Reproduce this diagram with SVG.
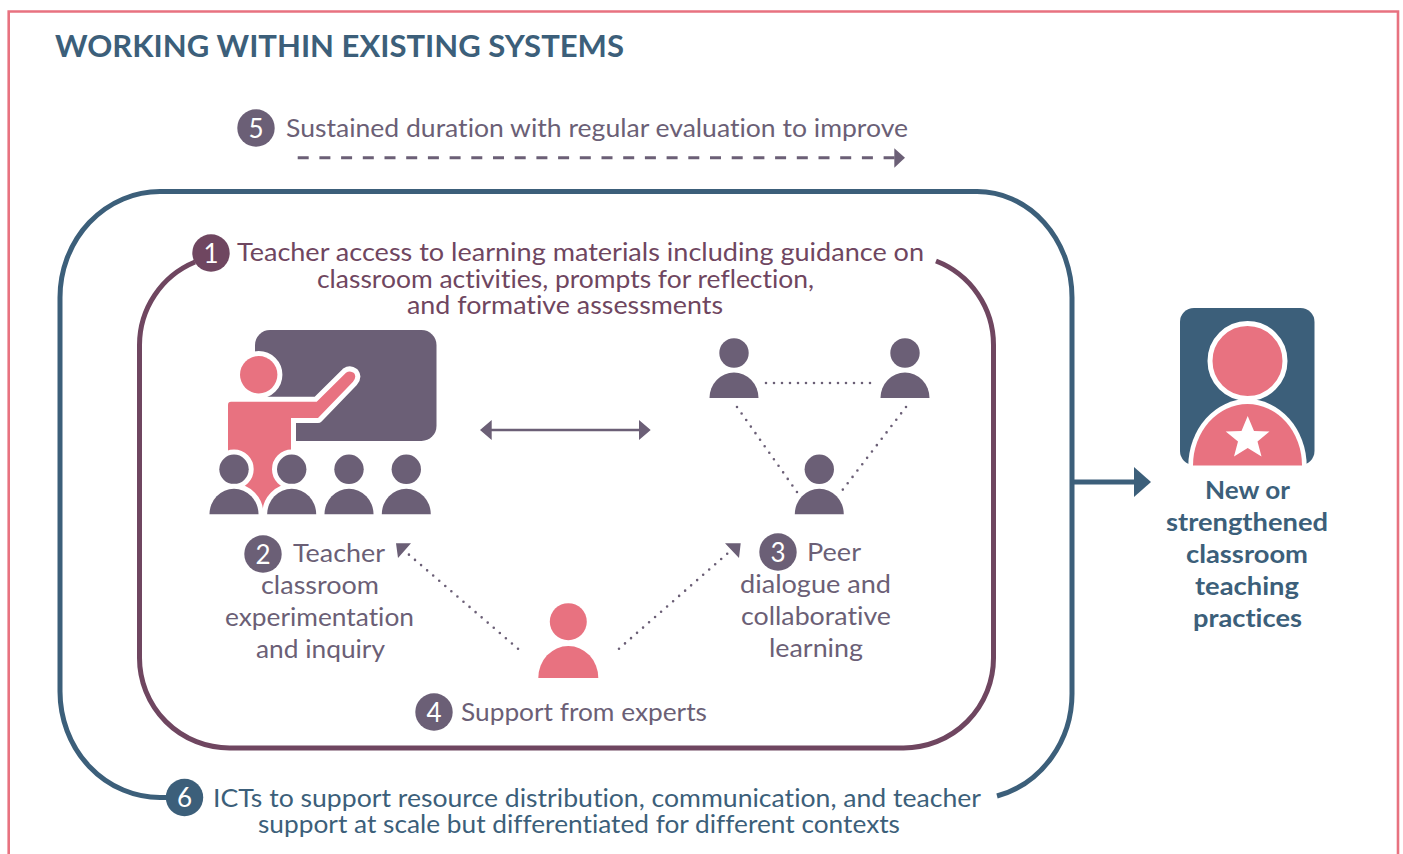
<svg xmlns="http://www.w3.org/2000/svg" width="1403" height="854" viewBox="0 0 1403 854">
<style>
text{font-family:Lato,"Open Sans","Liberation Sans",sans-serif;font-size:25.5px;font-variant-ligatures:none}
.g{fill:#6b5f76}.p{fill:#6f4660}.b{fill:#3c5f7a}.r{fill:#e87280}
.bold{font-weight:700;font-size:25px}
.num{fill:#fff;font-size:26px;text-anchor:middle}
.dot{fill:none;stroke:#6b5f76;stroke-width:2.6;stroke-linecap:round;stroke-dasharray:0 8}
.halo{stroke:#fff;stroke-width:10;stroke-linejoin:round;paint-order:stroke}
</style>
<defs>
<g id="person"><circle cx="0" cy="-45" r="14.7"/><path d="M-24.5 0A24.5 25.500 0 0 1 24.500 0Z"/></g>
</defs>
<rect width="1403" height="854" fill="#fff"/>
<path id="frame" d="M8.700 854V11.500H1398V854" fill="none" stroke="#e87280" stroke-width="2.600"/>
<text id="title" x="55" y="56.500" class="b" style="font-weight:700;font-size:30px" textLength="569" lengthAdjust="spacingAndGlyphs">WORKING WITHIN EXISTING SYSTEMS</text>

<g id="connectors" fill="none">
<path d="M170 797.500H160A100 106 0 0 1 60 691.500V297.500A100 106.000 0 0 1 160 191.500H977A95 106 0 0 1 1072 297.500V691.500A100 106 0 0 1 997 796" stroke="#3c5f7a" stroke-width="5"/>
<path d="M195 262A90 90 0 0 0 139.500 345V658A90 90 0 0 0 229.500 748H903.500A90 90 0 0 0 993.500 658V345A90 90 0 0 0 936 261" stroke="#6f4660" stroke-width="5"/>
<path d="M1072 482H1136" stroke="#3c5f7a" stroke-width="5"/>
<path d="M1134 467L1151 482L1134 497Z" fill="#3c5f7a"/>
<path d="M297.700 157.800H895" stroke="#6b5f76" stroke-width="3" stroke-dasharray="11 10.700"/>
<path d="M894.300 148.300L905 157.800L894.300 167.700Z" fill="#6b5f76"/>
<path d="M490 430H641" stroke="#6b5f76" stroke-width="2.500"/>
<path d="M491.700 420L480 430L491.700 440ZM639 420L650.700 430L639 440Z" fill="#6b5f76"/>
<path class="dot" d="M766 383H876"/>
<path class="dot" d="M737 407L797 492"/>
<path class="dot" d="M906 407L841 492"/>
<path class="dot" d="M518 648.700L407 553"/>
<path class="dot" d="M619 648.700L728 553"/>
<path d="M396 543.300H411L398 558ZM725 543.300H740.700L739 558Z" fill="#6b5f76"/>
</g>

<g id="teacher">
<rect x="255" y="330" width="181.500" height="111" rx="15" class="g"/>
<path class="r halo" d="M228 405Q228 401.700 231 401.700H316.700L346 372.700Q350 370 354 373Q357 377 353 381.700L318 418H291V514H228Z"/>
<circle cx="258.700" cy="374.700" r="18.700" class="r halo"/>
<g class="g">
<g class="halo"><use href="#person" x="234" y="514.300"/><use href="#person" x="291.700" y="514.300"/></g>
<use href="#person" x="349" y="514.300"/><use href="#person" x="406.300" y="514.300"/>
</g>
<rect x="205" y="515" width="60" height="6" fill="#fff"/>
</g>
<g id="peers" class="g">
<use href="#person" x="734" y="398"/><use href="#person" x="905" y="398"/><use href="#person" x="819.300" y="514.300"/>
</g>
<g id="expert" class="r">
<circle cx="568.300" cy="621.700" r="18.500"/><path d="M538.300 678A30 32 0 0 1 598.300 678Z"/>
</g>
<g id="outcome">
<rect x="1180" y="308" width="134.500" height="157" rx="14" class="b"/>
<path d="M1188.300 466A59.200 67 0 0 1 1306.700 466Z" fill="#fff"/>
<path d="M1193 465.500A54.500 61.500 0 0 1 1302 465.500Z" class="r"/>
<circle cx="1247.500" cy="361" r="37.500" class="r" stroke="#fff" stroke-width="5"/>
<path d="M1247.700 416L1254 431L1269.500 431.500L1257.500 441.500L1261.500 456.500L1247.700 448L1234 456.500L1238 441.500L1225.700 431.500L1241.500 431Z" fill="#fff"/>
<g class="b bold">
<text x="1205" y="499" textLength="85" lengthAdjust="spacingAndGlyphs">New or</text>
<text x="1166" y="531" textLength="162" lengthAdjust="spacingAndGlyphs">strengthened</text>
<text x="1186" y="563" textLength="122" lengthAdjust="spacingAndGlyphs">classroom</text>
<text x="1195" y="595" textLength="104" lengthAdjust="spacingAndGlyphs">teaching</text>
<text x="1193" y="627" textLength="109" lengthAdjust="spacingAndGlyphs">practices</text>
</g>
</g>

<g id="label-5"><circle cx="256" cy="128" r="18.700" class="g"/><text x="256" y="137.500" class="num">5</text>
<text x="286" y="137" class="g" textLength="622" lengthAdjust="spacingAndGlyphs">Sustained duration with regular evaluation to improve</text></g>
<g id="label-1" class="p"><circle cx="211" cy="253" r="18.700"/><text x="211" y="262.500" class="num">1</text>
<text x="237" y="261" textLength="687" lengthAdjust="spacingAndGlyphs">Teacher access to learning materials including guidance on</text>
<text x="317" y="288" textLength="497" lengthAdjust="spacingAndGlyphs">classroom activities, prompts for reflection,</text>
<text x="407" y="314" textLength="316" lengthAdjust="spacingAndGlyphs">and formative assessments</text></g>
<g id="label-2" class="g"><circle cx="263" cy="554" r="18.700"/><text x="263" y="563.500" class="num">2</text>
<text x="293" y="562" textLength="92" lengthAdjust="spacingAndGlyphs">Teacher</text>
<text x="261" y="594" textLength="118" lengthAdjust="spacingAndGlyphs">classroom</text>
<text x="225" y="626" textLength="189" lengthAdjust="spacingAndGlyphs">experimentation</text>
<text x="256" y="658" textLength="129" lengthAdjust="spacingAndGlyphs">and inquiry</text></g>
<g id="label-3" class="g"><circle cx="778" cy="552" r="18.700"/><text x="778" y="561.500" class="num">3</text>
<text x="807" y="561" textLength="54" lengthAdjust="spacingAndGlyphs">Peer</text>
<text x="740" y="593" textLength="151" lengthAdjust="spacingAndGlyphs">dialogue and</text>
<text x="741" y="625" textLength="150" lengthAdjust="spacingAndGlyphs">collaborative</text>
<text x="769" y="657" textLength="94" lengthAdjust="spacingAndGlyphs">learning</text></g>
<g id="label-4" class="g"><circle cx="434" cy="712" r="18.700"/><text x="434" y="721.500" class="num">4</text>
<text x="461" y="721" textLength="246" lengthAdjust="spacingAndGlyphs">Support from experts</text></g>
<g id="label-6" class="b"><circle cx="184.500" cy="797.500" r="18.700"/><text x="184.500" y="807" class="num">6</text>
<text x="213" y="807" textLength="768" lengthAdjust="spacingAndGlyphs">ICTs to support resource distribution, communication, and teacher</text>
<text x="258" y="833" textLength="642" lengthAdjust="spacingAndGlyphs">support at scale but differentiated for different contexts</text></g>
</svg>
